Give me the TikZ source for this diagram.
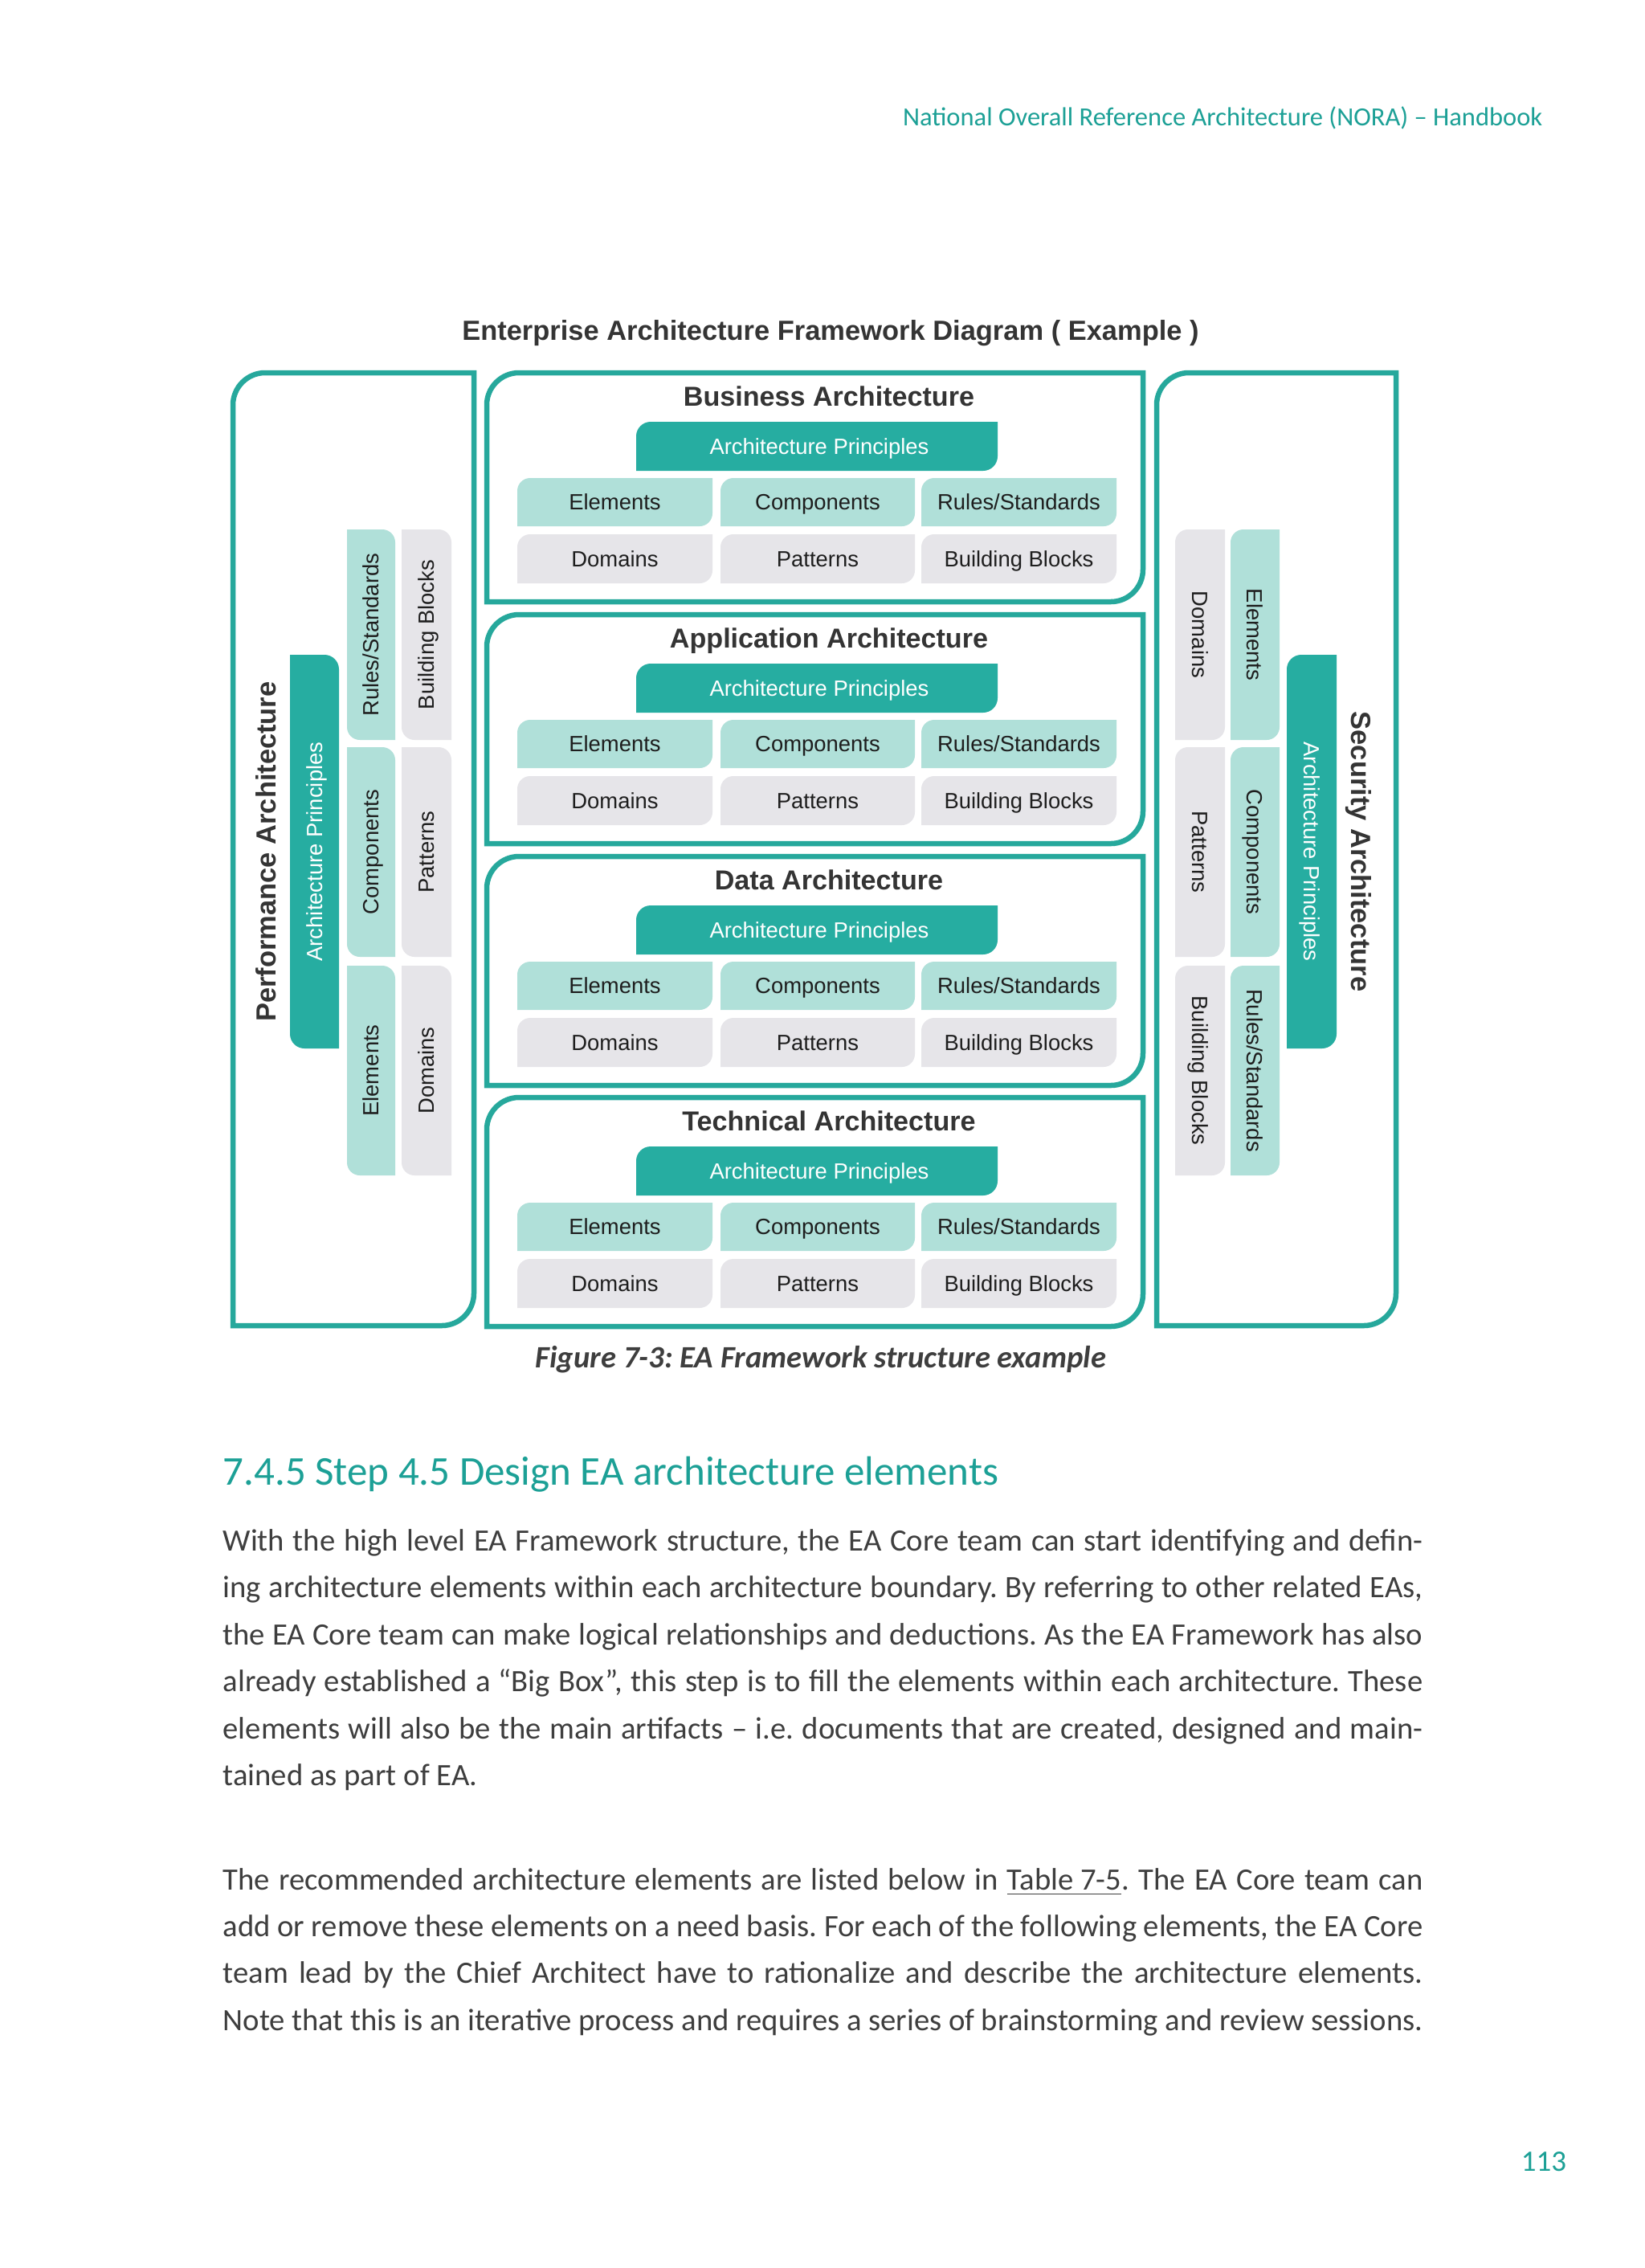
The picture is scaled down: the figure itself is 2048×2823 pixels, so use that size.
\documentclass[tikz,border=0pt]{standalone}
\usepackage{fontspec}
\usepackage{xcolor}
\usepackage{tikz}
\setmainfont{Carlito}
\newfontfamily\arialfont{Liberation Sans}
\frenchspacing

\definecolor{noraTeal}{RGB}{28,160,150}
\definecolor{frameTeal}{RGB}{38,168,156}
\definecolor{apTeal}{RGB}{38,173,161}
\definecolor{tileLight}{RGB}{176,224,217}
\definecolor{tileGray}{RGB}{230,229,233}
\definecolor{tileInk}{RGB}{30,30,30}
\definecolor{titleInk}{RGB}{52,52,52}
\definecolor{bodyInk}{RGB}{62,62,62}

\tikzset{
  frameline/.style={draw=frameTeal, line width=0.065cm},
  apfill/.style={fill=apTeal},
  lightfill/.style={fill=tileLight},
  grayfill/.style={fill=tileGray},
  tiletext/.style={inner sep=0pt, text height=5.6pt, text depth=0pt, text=tileInk,
    font=\arialfont\fontsize{7.8}{9}\selectfont},
  aptext/.style={tiletext, text=white},
  boxtitle/.style={inner sep=0pt, anchor=base, text=titleInk,
    font=\arialfont\bfseries\fontsize{9.7}{11}\selectfont},
  sidetitle/.style={inner sep=0pt, text height=6.9pt, text depth=0pt, text=titleInk,
    font=\arialfont\bfseries\fontsize{9.8}{11}\selectfont},
  bodyline/.style={inner sep=0pt, anchor=base west, text=bodyInk,
    font=\fontsize{11}{13}\selectfont},
}

% tile with top-left and bottom-right corners rounded: {style}{radius}{x1}{y1}{x2}{y2}
\newcommand{\leafTL}[6]{\path[#1] (#3,#6) -- (#3,#4+#2)
  .. controls (#3,#4+0.45*#2) and (#3+0.45*#2,#4) .. (#3+#2,#4) -- (#5,#4) -- (#5,#6-#2)
  .. controls (#5,#6-0.45*#2) and (#5-0.45*#2,#6) .. (#5-#2,#6) -- cycle;}
% tile with top-right and bottom-left corners rounded
\newcommand{\leafTR}[6]{\path[#1] (#3,#4) -- (#5-#2,#4)
  .. controls (#5-0.45*#2,#4) and (#5,#4+0.45*#2) .. (#5,#4+#2) -- (#5,#6) -- (#3+#2,#6)
  .. controls (#3+0.45*#2,#6) and (#3,#6-0.45*#2) .. (#3,#6-#2) -- cycle;}
\newcommand{\rulesstd}{Rules/Standards}

\begin{document}
\begin{tikzpicture}[x=0.01cm, y=-0.01cm]
  \useasboundingbox[fill=white] (0,0) rectangle (2048,2823);

  % page header
  \node[anchor=base east, inner sep=0pt, text=noraTeal, font=\fontsize{9.25}{11}\selectfont] (header)
    at (1921,156) {National Overall Reference Architecture (NORA) \textendash{} Handbook};

  \node[anchor=base, inner sep=0pt, text=titleInk, font=\arialfont\bfseries\fontsize{9.8}{11}\selectfont] (eatitle)
    at (1034,423) {Enterprise Architecture Framework Diagram ( Example )};

  % side frames
  \leafTL{frameline}{40}{290}{464}{590}{1650}
  \leafTL{frameline}{40}{1440}{464}{1738}{1650}

  % the four layers
  \foreach \T/\ttl/\nm in {464/Business/ba, 765/Application/aa, 1066/Data/da, 1366/Technical/ta}{
    \leafTL{frameline}{40}{606}{\T}{1423}{\T+285}
    \node[boxtitle] (\nm-title) at (1032,\T+41) {\ttl\ Architecture};
    \leafTL{apfill}{18}{792}{\T+61}{1242}{\T+122}
    \node[aptext] (\nm-ap) at (1020,\T+91.5) {Architecture Principles};
    \foreach \xa/\xb/\up/\down/\k in {644/887/Elements/Domains/1, 897/1139/Components/Patterns/2,
        1147/1390/\rulesstd/Building Blocks/3}{
      \leafTL{lightfill}{16}{\xa}{\T+131}{\xb}{\T+191}
      \leafTL{grayfill}{16}{\xa}{\T+201}{\xb}{\T+262}
      \node[tiletext] (\nm-up\k) at ({(\xa+\xb)/2},\T+161) {\up};
      \node[tiletext] (\nm-dn\k) at ({(\xa+\xb)/2},\T+231.5) {\down};
    }
  }

  % performance architecture
  \leafTR{apfill}{18}{361}{815}{422}{1305}
  \node[aptext, rotate=90] (perf-ap) at (391.5,1060) {Architecture Principles};
  \node[sidetitle, rotate=90] (perf-title) at (331,1060) {Performance Architecture};
  \foreach \ya/\yb/\lt/\gr/\k in {659/921/\rulesstd/Building Blocks/1, 930/1191/Components/Patterns/2,
      1202/1463/Elements/Domains/3}{
    \leafTR{lightfill}{16}{432}{\ya}{492}{\yb}
    \leafTR{grayfill}{16}{500}{\ya}{562}{\yb}
    \node[tiletext, rotate=90] (perf-lt\k) at (462,{(\ya+\yb)/2}) {\lt};
    \node[tiletext, rotate=90] (perf-gr\k) at (531,{(\ya+\yb)/2}) {\gr};
  }

  % security architecture
  \leafTL{apfill}{18}{1602}{815}{1664}{1305}
  \node[aptext, rotate=-90] (sec-ap) at (1633,1060) {Architecture Principles};
  \node[sidetitle, rotate=-90] (sec-title) at (1695,1060) {Security Architecture};
  \foreach \ya/\yb/\gr/\lt/\k in {659/921/Domains/Elements/1, 930/1191/Patterns/Components/2,
      1202/1463/Building Blocks/\rulesstd/3}{
    \leafTL{grayfill}{16}{1463}{\ya}{1525}{\yb}
    \leafTL{lightfill}{16}{1532}{\ya}{1593}{\yb}
    \node[tiletext, rotate=-90] (sec-gr\k) at (1494,{(\ya+\yb)/2}) {\gr};
    \node[tiletext, rotate=-90] (sec-lt\k) at (1562.5,{(\ya+\yb)/2}) {\lt};
  }

  \node[anchor=base, inner sep=0pt, text=bodyInk, font=\bfseries\itshape\fontsize{11}{13}\selectfont] (caption)
    at (1022,1702) {Figure 7-3: EA Framework structure example};

  \node[anchor=base west, inner sep=0pt, text=noraTeal, font=\fontsize{14.5}{17}\selectfont] (heading)
    at (277,1848) {7.4.5 Step 4.5 Design EA architecture elements};

  % body text
  \node[bodyline] (p1l1) at (277,1930) {\makebox[14.93cm][s]{With the high level EA Framework structure, the EA Core team can start identifying and defin-}};
  \node[bodyline] (p1l2) at (277,1988) {\makebox[14.93cm][s]{ing architecture elements within each architecture boundary. By referring to other related EAs,}};
  \node[bodyline] (p1l3) at (277,2047) {\makebox[14.93cm][s]{the EA Core team can make logical relationships and deductions. As the EA Framework has also}};
  \node[bodyline] (p1l4) at (277,2105) {\makebox[14.93cm][s]{already established a “Big Box”, this step is to fill the elements within each architecture. These}};
  \node[bodyline] (p1l5) at (277,2164) {\makebox[14.93cm][s]{elements will also be the main artifacts \textendash{} i.e. documents that are created, designed and main-}};
  \node[bodyline] (p1l6) at (277,2222) {tained as part of EA.};
  \node[bodyline] (p2l1) at (277,2352) {\makebox[14.93cm][s]{The recommended architecture elements are listed below in \underline{Table 7-5}. The EA Core team can}};
  \node[bodyline] (p2l2) at (277,2410) {\makebox[14.93cm][s]{add or remove these elements on a need basis. For each of the following elements, the EA Core}};
  \node[bodyline] (p2l3) at (277,2468) {\makebox[14.93cm][s]{team lead by the Chief Architect have to rationalize and describe the architecture elements.}};
  \node[bodyline] (p2l4) at (277,2527) {\makebox[14.93cm][s]{Note that this is an iterative process and requires a series of brainstorming and review sessions.}};

  \node[anchor=base, inner sep=0pt, text=noraTeal, font=\fontsize{10.5}{12}\selectfont] (pageno)
    at (1922,2702) {113};
\end{tikzpicture}
\end{document}
